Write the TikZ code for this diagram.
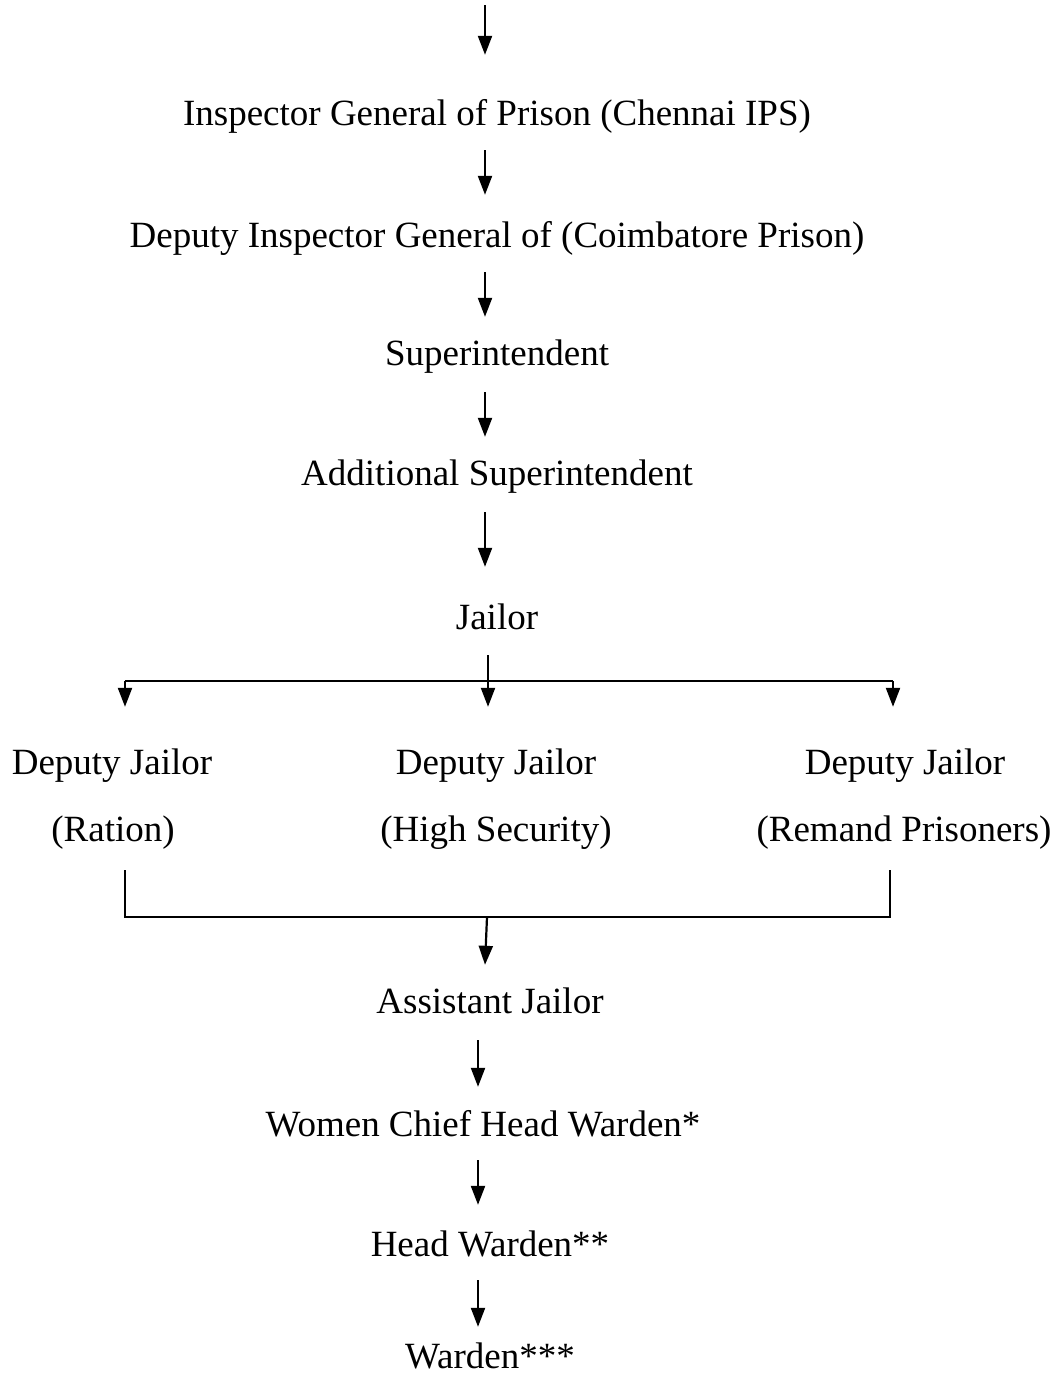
\documentclass[tikz,border=0pt]{standalone}
\usepackage{fontspec}
\setmainfont{Liberation Serif}
\usetikzlibrary{arrows.meta}
\begin{document}
\begin{tikzpicture}[x=1pt,y=-1pt,
  lbl/.style={inner sep=0pt,text height=30pt,text depth=6pt,font=\fontsize{37}{40}\selectfont},
  arr/.style={line width=2.2pt,-{Triangle[width=14pt,length=19pt]}},
  ln/.style={line width=2.2pt}]
\useasboundingbox (0,0) rectangle (1059,1376);
\node[lbl] (ins) at (497,113) {Inspector General of Prison (Chennai IPS)};
\node[lbl] (dig) at (497,235) {Deputy Inspector General of (Coimbatore Prison)};
\node[lbl] (sup) at (497,353) {Superintendent};
\node[lbl] (add) at (497,473) {Additional Superintendent};
\node[lbl] (jai) at (497,617) {Jailor};
\node[lbl] (dj1) at (112,762) {Deputy Jailor};
\node[lbl] (dj2) at (496,762) {Deputy Jailor};
\node[lbl] (dj3) at (905,762) {Deputy Jailor};
\node[lbl] (r1) at (113,829) {(Ration)};
\node[lbl] (r2) at (496,829) {(High Security)};
\node[lbl] (r3) at (904,829) {(Remand Prisoners)};
\node[lbl] (aj) at (490,1001) {Assistant Jailor};
\node[lbl] (wc) at (483,1124) {Women Chief Head Warden*};
\node[lbl] (hw) at (490,1244) {Head Warden**};
\node[lbl,text depth=0pt,anchor=base] (wd) at (490,1368) {Warden***};
% top free arrow
\coordinate (top) at (485,5);
\draw[arr] (top) -- ([xshift=-12pt,yshift=40pt]ins.north);
\draw[arr] ([xshift=-12pt,yshift=-19pt]ins.south) -- ([xshift=-12pt,yshift=22pt]dig.north);
\draw[arr] ([xshift=-12pt,yshift=-19pt]dig.south) -- ([xshift=-12pt,yshift=18pt]sup.north);
\draw[arr] ([xshift=-12pt,yshift=-21pt]sup.south) -- ([xshift=-12pt,yshift=18pt]add.north);
\draw[arr] ([xshift=-12pt,yshift=-21pt]add.south) -- ([xshift=-12pt,yshift=32pt]jai.north);
% branch from jailor
\coordinate (hl) at (125,681);
\coordinate (hr) at (893,681);
\draw[ln] (hl) -- (hr);
\draw[arr] ([xshift=-9pt,yshift=-20pt]jai.south) -- ([xshift=-8pt,yshift=37pt]dj2.north);
\draw[arr] (hl) -- ([xshift=13pt,yshift=37pt]dj1.north);
\draw[arr] (hr) -- ([xshift=-12pt,yshift=37pt]dj3.north);
% merging bracket
\coordinate (bl) at (125,917);
\coordinate (br) at (890,917);
\coordinate (bm) at (487,917);
\coordinate (blt) at ([xshift=12pt,yshift=-23pt]r1.south);
\coordinate (brt) at ([xshift=-14pt,yshift=-23pt]r3.south);
\draw[ln] (blt) -- (bl) -- (br) -- (brt);
\draw[arr] (bm) -- ([xshift=-5pt,yshift=18pt]aj.north);
\draw[arr] ([xshift=-12pt,yshift=-21pt]aj.south) -- ([xshift=-5pt,yshift=19pt]wc.north);
\draw[arr] ([xshift=-5pt,yshift=-18pt]wc.south) -- ([xshift=-12pt,yshift=21pt]hw.north);
\draw[arr] ([xshift=-12pt,yshift=-18pt]hw.south) -- ([xshift=-12pt,yshift=11pt]wd.north);
\end{tikzpicture}
\end{document}
